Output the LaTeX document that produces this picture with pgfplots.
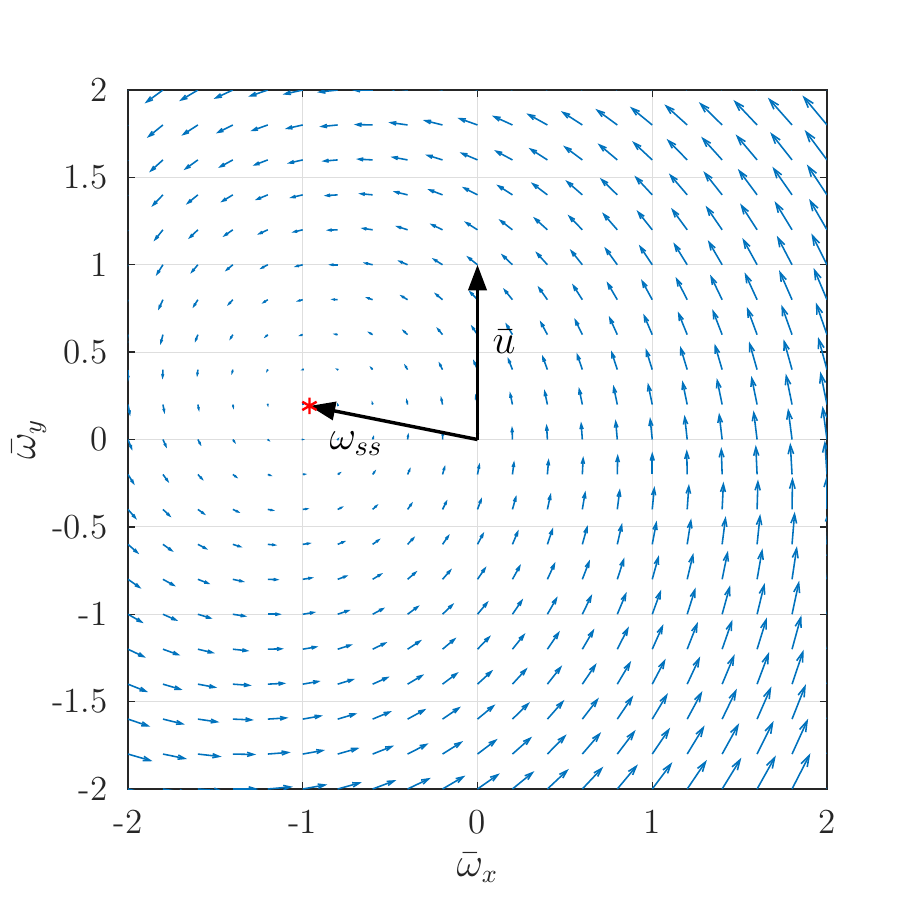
\documentclass[border=0pt]{standalone}
\usepackage{pgfplots}
\pgfplotsset{compat=1.18}
\usetikzlibrary{arrows.meta}
\definecolor{mblue}{HTML}{0072BD}
\definecolor{axgray}{HTML}{262626}
\definecolor{gridgray}{HTML}{DEDEDE}

% vector field: rows of x y u v on the 0.2 grid
\pgfplotstableread[row sep=\\]{
x y u v\\
-2 -2 2.4 -0.6\\ -1.8 -2 2.36 -0.4\\ -1.6 -2 2.32 -0.2\\ -1.4 -2 2.28 0\\ -1.2 -2 2.24 0.2\\ -1 -2 2.2 0.4\\ -0.8 -2 2.16 0.6\\ -0.6 -2 2.12 0.8\\ -0.4 -2 2.08 1\\ -0.2 -2 2.04 1.2\\ 0 -2 2 1.4\\ 0.2 -2 1.96 1.6\\ 0.4 -2 1.92 1.8\\ 0.6 -2 1.88 2\\ 0.8 -2 1.84 2.2\\ 1 -2 1.8 2.4\\ 1.2 -2 1.76 2.6\\ 1.4 -2 1.72 2.8\\ 1.6 -2 1.68 3\\ 1.8 -2 1.64 3.2\\ 2 -2 1.6 3.4\\
-2 -1.8 2.2 -0.64\\ -1.8 -1.8 2.16 -0.44\\ -1.6 -1.8 2.12 -0.24\\ -1.4 -1.8 2.08 -0.04\\ -1.2 -1.8 2.04 0.16\\ -1 -1.8 2 0.36\\ -0.8 -1.8 1.96 0.56\\ -0.6 -1.8 1.92 0.76\\ -0.4 -1.8 1.88 0.96\\ -0.2 -1.8 1.84 1.16\\ 0 -1.8 1.8 1.36\\ 0.2 -1.8 1.76 1.56\\ 0.4 -1.8 1.72 1.76\\ 0.6 -1.8 1.68 1.96\\ 0.8 -1.8 1.64 2.16\\ 1 -1.8 1.6 2.36\\ 1.2 -1.8 1.56 2.56\\ 1.4 -1.8 1.52 2.76\\ 1.6 -1.8 1.48 2.96\\ 1.8 -1.8 1.44 3.16\\ 2 -1.8 1.4 3.36\\
-2 -1.6 2 -0.68\\ -1.8 -1.6 1.96 -0.48\\ -1.6 -1.6 1.92 -0.28\\ -1.4 -1.6 1.88 -0.08\\ -1.2 -1.6 1.84 0.12\\ -1 -1.6 1.8 0.32\\ -0.8 -1.6 1.76 0.52\\ -0.6 -1.6 1.72 0.72\\ -0.4 -1.6 1.68 0.92\\ -0.2 -1.6 1.64 1.12\\ 0 -1.6 1.6 1.32\\ 0.2 -1.6 1.56 1.52\\ 0.4 -1.6 1.52 1.72\\ 0.6 -1.6 1.48 1.92\\ 0.8 -1.6 1.44 2.12\\ 1 -1.6 1.4 2.32\\ 1.2 -1.6 1.36 2.52\\ 1.4 -1.6 1.32 2.72\\ 1.6 -1.6 1.28 2.92\\ 1.8 -1.6 1.24 3.12\\ 2 -1.6 1.2 3.32\\
-2 -1.4 1.8 -0.72\\ -1.8 -1.4 1.76 -0.52\\ -1.6 -1.4 1.72 -0.32\\ -1.4 -1.4 1.68 -0.12\\ -1.2 -1.4 1.64 0.08\\ -1 -1.4 1.6 0.28\\ -0.8 -1.4 1.56 0.48\\ -0.6 -1.4 1.52 0.68\\ -0.4 -1.4 1.48 0.88\\ -0.2 -1.4 1.44 1.08\\ 0 -1.4 1.4 1.28\\ 0.2 -1.4 1.36 1.48\\ 0.4 -1.4 1.32 1.68\\ 0.6 -1.4 1.28 1.88\\ 0.8 -1.4 1.24 2.08\\ 1 -1.4 1.2 2.28\\ 1.2 -1.4 1.16 2.48\\ 1.4 -1.4 1.12 2.68\\ 1.6 -1.4 1.08 2.88\\ 1.8 -1.4 1.04 3.08\\ 2 -1.4 1 3.28\\
-2 -1.2 1.6 -0.76\\ -1.8 -1.2 1.56 -0.56\\ -1.6 -1.2 1.52 -0.36\\ -1.4 -1.2 1.48 -0.16\\ -1.2 -1.2 1.44 0.04\\ -1 -1.2 1.4 0.24\\ -0.8 -1.2 1.36 0.44\\ -0.6 -1.2 1.32 0.64\\ -0.4 -1.2 1.28 0.84\\ -0.2 -1.2 1.24 1.04\\ 0 -1.2 1.2 1.24\\ 0.2 -1.2 1.16 1.44\\ 0.4 -1.2 1.12 1.64\\ 0.6 -1.2 1.08 1.84\\ 0.8 -1.2 1.04 2.04\\ 1 -1.2 1 2.24\\ 1.2 -1.2 0.96 2.44\\ 1.4 -1.2 0.92 2.64\\ 1.6 -1.2 0.88 2.84\\ 1.8 -1.2 0.84 3.04\\ 2 -1.2 0.8 3.24\\
-2 -1 1.4 -0.8\\ -1.8 -1 1.36 -0.6\\ -1.6 -1 1.32 -0.4\\ -1.4 -1 1.28 -0.2\\ -1.2 -1 1.24 0\\ -1 -1 1.2 0.2\\ -0.8 -1 1.16 0.4\\ -0.6 -1 1.12 0.6\\ -0.4 -1 1.08 0.8\\ -0.2 -1 1.04 1\\ 0 -1 1 1.2\\ 0.2 -1 0.96 1.4\\ 0.4 -1 0.92 1.6\\ 0.6 -1 0.88 1.8\\ 0.8 -1 0.84 2\\ 1 -1 0.8 2.2\\ 1.2 -1 0.76 2.4\\ 1.4 -1 0.72 2.6\\ 1.6 -1 0.68 2.8\\ 1.8 -1 0.64 3\\ 2 -1 0.6 3.2\\
-2 -0.8 1.2 -0.84\\ -1.8 -0.8 1.16 -0.64\\ -1.6 -0.8 1.12 -0.44\\ -1.4 -0.8 1.08 -0.24\\ -1.2 -0.8 1.04 -0.04\\ -1 -0.8 1 0.16\\ -0.8 -0.8 0.96 0.36\\ -0.6 -0.8 0.92 0.56\\ -0.4 -0.8 0.88 0.76\\ -0.2 -0.8 0.84 0.96\\ 0 -0.8 0.8 1.16\\ 0.2 -0.8 0.76 1.36\\ 0.4 -0.8 0.72 1.56\\ 0.6 -0.8 0.68 1.76\\ 0.8 -0.8 0.64 1.96\\ 1 -0.8 0.6 2.16\\ 1.2 -0.8 0.56 2.36\\ 1.4 -0.8 0.52 2.56\\ 1.6 -0.8 0.48 2.76\\ 1.8 -0.8 0.44 2.96\\ 2 -0.8 0.4 3.16\\
-2 -0.6 1 -0.88\\ -1.8 -0.6 0.96 -0.68\\ -1.6 -0.6 0.92 -0.48\\ -1.4 -0.6 0.88 -0.28\\ -1.2 -0.6 0.84 -0.08\\ -1 -0.6 0.8 0.12\\ -0.8 -0.6 0.76 0.32\\ -0.6 -0.6 0.72 0.52\\ -0.4 -0.6 0.68 0.72\\ -0.2 -0.6 0.64 0.92\\ 0 -0.6 0.6 1.12\\ 0.2 -0.6 0.56 1.32\\ 0.4 -0.6 0.52 1.52\\ 0.6 -0.6 0.48 1.72\\ 0.8 -0.6 0.44 1.92\\ 1 -0.6 0.4 2.12\\ 1.2 -0.6 0.36 2.32\\ 1.4 -0.6 0.32 2.52\\ 1.6 -0.6 0.28 2.72\\ 1.8 -0.6 0.24 2.92\\ 2 -0.6 0.2 3.12\\
-2 -0.4 0.8 -0.92\\ -1.8 -0.4 0.76 -0.72\\ -1.6 -0.4 0.72 -0.52\\ -1.4 -0.4 0.68 -0.32\\ -1.2 -0.4 0.64 -0.12\\ -1 -0.4 0.6 0.08\\ -0.8 -0.4 0.56 0.28\\ -0.6 -0.4 0.52 0.48\\ -0.4 -0.4 0.48 0.68\\ -0.2 -0.4 0.44 0.88\\ 0 -0.4 0.4 1.08\\ 0.2 -0.4 0.36 1.28\\ 0.4 -0.4 0.32 1.48\\ 0.6 -0.4 0.28 1.68\\ 0.8 -0.4 0.24 1.88\\ 1 -0.4 0.2 2.08\\ 1.2 -0.4 0.16 2.28\\ 1.4 -0.4 0.12 2.48\\ 1.6 -0.4 0.08 2.68\\ 1.8 -0.4 0.04 2.88\\ 2 -0.4 0 3.08\\
-2 -0.2 0.6 -0.96\\ -1.8 -0.2 0.56 -0.76\\ -1.6 -0.2 0.52 -0.56\\ -1.4 -0.2 0.48 -0.36\\ -1.2 -0.2 0.44 -0.16\\ -1 -0.2 0.4 0.04\\ -0.8 -0.2 0.36 0.24\\ -0.6 -0.2 0.32 0.44\\ -0.4 -0.2 0.28 0.64\\ -0.2 -0.2 0.24 0.84\\ 0 -0.2 0.2 1.04\\ 0.2 -0.2 0.16 1.24\\ 0.4 -0.2 0.12 1.44\\ 0.6 -0.2 0.08 1.64\\ 0.8 -0.2 0.04 1.84\\ 1 -0.2 0 2.04\\ 1.2 -0.2 -0.04 2.24\\ 1.4 -0.2 -0.08 2.44\\ 1.6 -0.2 -0.12 2.64\\ 1.8 -0.2 -0.16 2.84\\ 2 -0.2 -0.2 3.04\\
-2 0 0.4 -1\\ -1.8 0 0.36 -0.8\\ -1.6 0 0.32 -0.6\\ -1.4 0 0.28 -0.4\\ -1.2 0 0.24 -0.2\\ -1 0 0.2 0\\ -0.8 0 0.16 0.2\\ -0.6 0 0.12 0.4\\ -0.4 0 0.08 0.6\\ -0.2 0 0.04 0.8\\ 0 0 0 1\\ 0.2 0 -0.04 1.2\\ 0.4 0 -0.08 1.4\\ 0.6 0 -0.12 1.6\\ 0.8 0 -0.16 1.8\\ 1 0 -0.2 2\\ 1.2 0 -0.24 2.2\\ 1.4 0 -0.28 2.4\\ 1.6 0 -0.32 2.6\\ 1.8 0 -0.36 2.8\\ 2 0 -0.4 3\\
-2 0.2 0.2 -1.04\\ -1.8 0.2 0.16 -0.84\\ -1.6 0.2 0.12 -0.64\\ -1.4 0.2 0.08 -0.44\\ -1.2 0.2 0.04 -0.24\\ -1 0.2 0 -0.04\\ -0.8 0.2 -0.04 0.16\\ -0.6 0.2 -0.08 0.36\\ -0.4 0.2 -0.12 0.56\\ -0.2 0.2 -0.16 0.76\\ 0 0.2 -0.2 0.96\\ 0.2 0.2 -0.24 1.16\\ 0.4 0.2 -0.28 1.36\\ 0.6 0.2 -0.32 1.56\\ 0.8 0.2 -0.36 1.76\\ 1 0.2 -0.4 1.96\\ 1.2 0.2 -0.44 2.16\\ 1.4 0.2 -0.48 2.36\\ 1.6 0.2 -0.52 2.56\\ 1.8 0.2 -0.56 2.76\\ 2 0.2 -0.6 2.96\\
-2 0.4 0 -1.08\\ -1.8 0.4 -0.04 -0.88\\ -1.6 0.4 -0.08 -0.68\\ -1.4 0.4 -0.12 -0.48\\ -1.2 0.4 -0.16 -0.28\\ -1 0.4 -0.2 -0.08\\ -0.8 0.4 -0.24 0.12\\ -0.6 0.4 -0.28 0.32\\ -0.4 0.4 -0.32 0.52\\ -0.2 0.4 -0.36 0.72\\ 0 0.4 -0.4 0.92\\ 0.2 0.4 -0.44 1.12\\ 0.4 0.4 -0.48 1.32\\ 0.6 0.4 -0.52 1.52\\ 0.8 0.4 -0.56 1.72\\ 1 0.4 -0.6 1.92\\ 1.2 0.4 -0.64 2.12\\ 1.4 0.4 -0.68 2.32\\ 1.6 0.4 -0.72 2.52\\ 1.8 0.4 -0.76 2.72\\ 2 0.4 -0.8 2.92\\
-2 0.6 -0.2 -1.12\\ -1.8 0.6 -0.24 -0.92\\ -1.6 0.6 -0.28 -0.72\\ -1.4 0.6 -0.32 -0.52\\ -1.2 0.6 -0.36 -0.32\\ -1 0.6 -0.4 -0.12\\ -0.8 0.6 -0.44 0.08\\ -0.6 0.6 -0.48 0.28\\ -0.4 0.6 -0.52 0.48\\ -0.2 0.6 -0.56 0.68\\ 0 0.6 -0.6 0.88\\ 0.2 0.6 -0.64 1.08\\ 0.4 0.6 -0.68 1.28\\ 0.6 0.6 -0.72 1.48\\ 0.8 0.6 -0.76 1.68\\ 1 0.6 -0.8 1.88\\ 1.2 0.6 -0.84 2.08\\ 1.4 0.6 -0.88 2.28\\ 1.6 0.6 -0.92 2.48\\ 1.8 0.6 -0.96 2.68\\ 2 0.6 -1 2.88\\
-2 0.8 -0.4 -1.16\\ -1.8 0.8 -0.44 -0.96\\ -1.6 0.8 -0.48 -0.76\\ -1.4 0.8 -0.52 -0.56\\ -1.2 0.8 -0.56 -0.36\\ -1 0.8 -0.6 -0.16\\ -0.8 0.8 -0.64 0.04\\ -0.6 0.8 -0.68 0.24\\ -0.4 0.8 -0.72 0.44\\ -0.2 0.8 -0.76 0.64\\ 0 0.8 -0.8 0.84\\ 0.2 0.8 -0.84 1.04\\ 0.4 0.8 -0.88 1.24\\ 0.6 0.8 -0.92 1.44\\ 0.8 0.8 -0.96 1.64\\ 1 0.8 -1 1.84\\ 1.2 0.8 -1.04 2.04\\ 1.4 0.8 -1.08 2.24\\ 1.6 0.8 -1.12 2.44\\ 1.8 0.8 -1.16 2.64\\ 2 0.8 -1.2 2.84\\
-2 1 -0.6 -1.2\\ -1.8 1 -0.64 -1\\ -1.6 1 -0.68 -0.8\\ -1.4 1 -0.72 -0.6\\ -1.2 1 -0.76 -0.4\\ -1 1 -0.8 -0.2\\ -0.8 1 -0.84 0\\ -0.6 1 -0.88 0.2\\ -0.4 1 -0.92 0.4\\ -0.2 1 -0.96 0.6\\ 0 1 -1 0.8\\ 0.2 1 -1.04 1\\ 0.4 1 -1.08 1.2\\ 0.6 1 -1.12 1.4\\ 0.8 1 -1.16 1.6\\ 1 1 -1.2 1.8\\ 1.2 1 -1.24 2\\ 1.4 1 -1.28 2.2\\ 1.6 1 -1.32 2.4\\ 1.8 1 -1.36 2.6\\ 2 1 -1.4 2.8\\
-2 1.2 -0.8 -1.24\\ -1.8 1.2 -0.84 -1.04\\ -1.6 1.2 -0.88 -0.84\\ -1.4 1.2 -0.92 -0.64\\ -1.2 1.2 -0.96 -0.44\\ -1 1.2 -1 -0.24\\ -0.8 1.2 -1.04 -0.04\\ -0.6 1.2 -1.08 0.16\\ -0.4 1.2 -1.12 0.36\\ -0.2 1.2 -1.16 0.56\\ 0 1.2 -1.2 0.76\\ 0.2 1.2 -1.24 0.96\\ 0.4 1.2 -1.28 1.16\\ 0.6 1.2 -1.32 1.36\\ 0.8 1.2 -1.36 1.56\\ 1 1.2 -1.4 1.76\\ 1.2 1.2 -1.44 1.96\\ 1.4 1.2 -1.48 2.16\\ 1.6 1.2 -1.52 2.36\\ 1.8 1.2 -1.56 2.56\\ 2 1.2 -1.6 2.76\\
-2 1.4 -1 -1.28\\ -1.8 1.4 -1.04 -1.08\\ -1.6 1.4 -1.08 -0.88\\ -1.4 1.4 -1.12 -0.68\\ -1.2 1.4 -1.16 -0.48\\ -1 1.4 -1.2 -0.28\\ -0.8 1.4 -1.24 -0.08\\ -0.6 1.4 -1.28 0.12\\ -0.4 1.4 -1.32 0.32\\ -0.2 1.4 -1.36 0.52\\ 0 1.4 -1.4 0.72\\ 0.2 1.4 -1.44 0.92\\ 0.4 1.4 -1.48 1.12\\ 0.6 1.4 -1.52 1.32\\ 0.8 1.4 -1.56 1.52\\ 1 1.4 -1.6 1.72\\ 1.2 1.4 -1.64 1.92\\ 1.4 1.4 -1.68 2.12\\ 1.6 1.4 -1.72 2.32\\ 1.8 1.4 -1.76 2.52\\ 2 1.4 -1.8 2.72\\
-2 1.6 -1.2 -1.32\\ -1.8 1.6 -1.24 -1.12\\ -1.6 1.6 -1.28 -0.92\\ -1.4 1.6 -1.32 -0.72\\ -1.2 1.6 -1.36 -0.52\\ -1 1.6 -1.4 -0.32\\ -0.8 1.6 -1.44 -0.12\\ -0.6 1.6 -1.48 0.08\\ -0.4 1.6 -1.52 0.28\\ -0.2 1.6 -1.56 0.48\\ 0 1.6 -1.6 0.68\\ 0.2 1.6 -1.64 0.88\\ 0.4 1.6 -1.68 1.08\\ 0.6 1.6 -1.72 1.28\\ 0.8 1.6 -1.76 1.48\\ 1 1.6 -1.8 1.68\\ 1.2 1.6 -1.84 1.88\\ 1.4 1.6 -1.88 2.08\\ 1.6 1.6 -1.92 2.28\\ 1.8 1.6 -1.96 2.48\\ 2 1.6 -2 2.68\\
-2 1.8 -1.4 -1.36\\ -1.8 1.8 -1.44 -1.16\\ -1.6 1.8 -1.48 -0.96\\ -1.4 1.8 -1.52 -0.76\\ -1.2 1.8 -1.56 -0.56\\ -1 1.8 -1.6 -0.36\\ -0.8 1.8 -1.64 -0.16\\ -0.6 1.8 -1.68 0.04\\ -0.4 1.8 -1.72 0.24\\ -0.2 1.8 -1.76 0.44\\ 0 1.8 -1.8 0.64\\ 0.2 1.8 -1.84 0.84\\ 0.4 1.8 -1.88 1.04\\ 0.6 1.8 -1.92 1.24\\ 0.8 1.8 -1.96 1.44\\ 1 1.8 -2 1.64\\ 1.2 1.8 -2.04 1.84\\ 1.4 1.8 -2.08 2.04\\ 1.6 1.8 -2.12 2.24\\ 1.8 1.8 -2.16 2.44\\ 2 1.8 -2.2 2.64\\
-2 2 -1.6 -1.4\\ -1.8 2 -1.64 -1.2\\ -1.6 2 -1.68 -1\\ -1.4 2 -1.72 -0.8\\ -1.2 2 -1.76 -0.6\\ -1 2 -1.8 -0.4\\ -0.8 2 -1.84 -0.2\\ -0.6 2 -1.88 0\\ -0.4 2 -1.92 0.2\\ -0.2 2 -1.96 0.4\\ 0 2 -2 0.6\\ 0.2 2 -2.04 0.8\\ 0.4 2 -2.08 1\\ 0.6 2 -2.12 1.2\\ 0.8 2 -2.16 1.4\\ 1 2 -2.2 1.6\\ 1.2 2 -2.24 1.8\\ 1.4 2 -2.28 2\\ 1.6 2 -2.32 2.2\\ 1.8 2 -2.36 2.4\\ 2 2 -2.4 2.6\\
}\field

\begin{document}
\begin{tikzpicture}
\path[use as bounding box] (-44.8pt,-43.4pt) rectangle (274.75pt,276.15pt);
\begin{axis}[
  at={(0,0)}, anchor=south west,
  scale only axis, width=244.65pt, height=244.65pt,
  xmin=-2, xmax=2, ymin=-2, ymax=2,
  xtick={-2,-1,0,1,2}, xticklabels={-2,-1,0,1,2},
  ytick={-2,-1.5,-1,-0.5,0,0.5,1,1.5,2},
  yticklabels={-2,-1.5,-1,-0.5,0,0.5,1,1.5,2},
  grid=major, major grid style={line width=0.4pt, color=gridgray},
  axis line style={line width=0.5pt, color=axgray},
  tick style={line width=0.5pt, color=axgray},
  major tick length=2.5pt, tick align=inside,
  tick label style={font=\fontsize{12.3}{14}\selectfont, text=axgray},
  xticklabel style={yshift=-3.8pt},
  yticklabel style={xshift=-3.6pt},
  label style={font=\fontsize{13.5}{15}\selectfont, text=axgray},
  xlabel={$\bar{\omega}_x$}, ylabel={$\bar{\omega}_y$},
  xlabel style={at={(axis description cs:0.5,0)}, anchor=base, yshift=-30.5pt},
  ylabel style={at={(axis description cs:-0.133,0.5)}, anchor=base},
]
\addplot[
  draw=mblue, line width=0.55pt,
  point meta={veclen(\thisrow{u},\thisrow{v})},
  point meta min=0, point meta max=4,
  quiver={u=\thisrow{u}, v=\thisrow{v}, scale arrows=0.064,
    every arrow/.append style={
      /utils/exec={%
        \pgfmathsetmacro\hl{max(0.05,0.0043*\pgfplotspointmetatransformed)}%
        \pgfmathsetmacro\hw{max(0.05,0.0027*\pgfplotspointmetatransformed)}},
      -{Straight Barb[length=\hl pt, width=\hw pt]}
    }},
] table {\field};

% steady state and input vectors
\addplot[only marks, mark=asterisk, mark size=2.9pt, red, line width=0.85pt]
  coordinates {(-0.9615,0.1923)};
\addplot[black, line width=1.2pt, -{Triangle[length=9pt, width=6.4pt]}]
  coordinates {(0,0) (0,1)};
\addplot[black, line width=1.2pt, -{Triangle[length=9pt, width=6.4pt]}]
  coordinates {(0,0) (-0.9615,0.1923)};
\node[anchor=base west, inner sep=0pt, font=\fontsize{14}{16}\selectfont]
  at (axis cs:0.083,0.495) {$\bar{u}$};
\node[anchor=base west, inner sep=0pt, font=\fontsize{14}{16}\selectfont]
  at (axis cs:-0.85,-0.057) {$\omega_{ss}$};
\end{axis}
\end{tikzpicture}
\end{document}
